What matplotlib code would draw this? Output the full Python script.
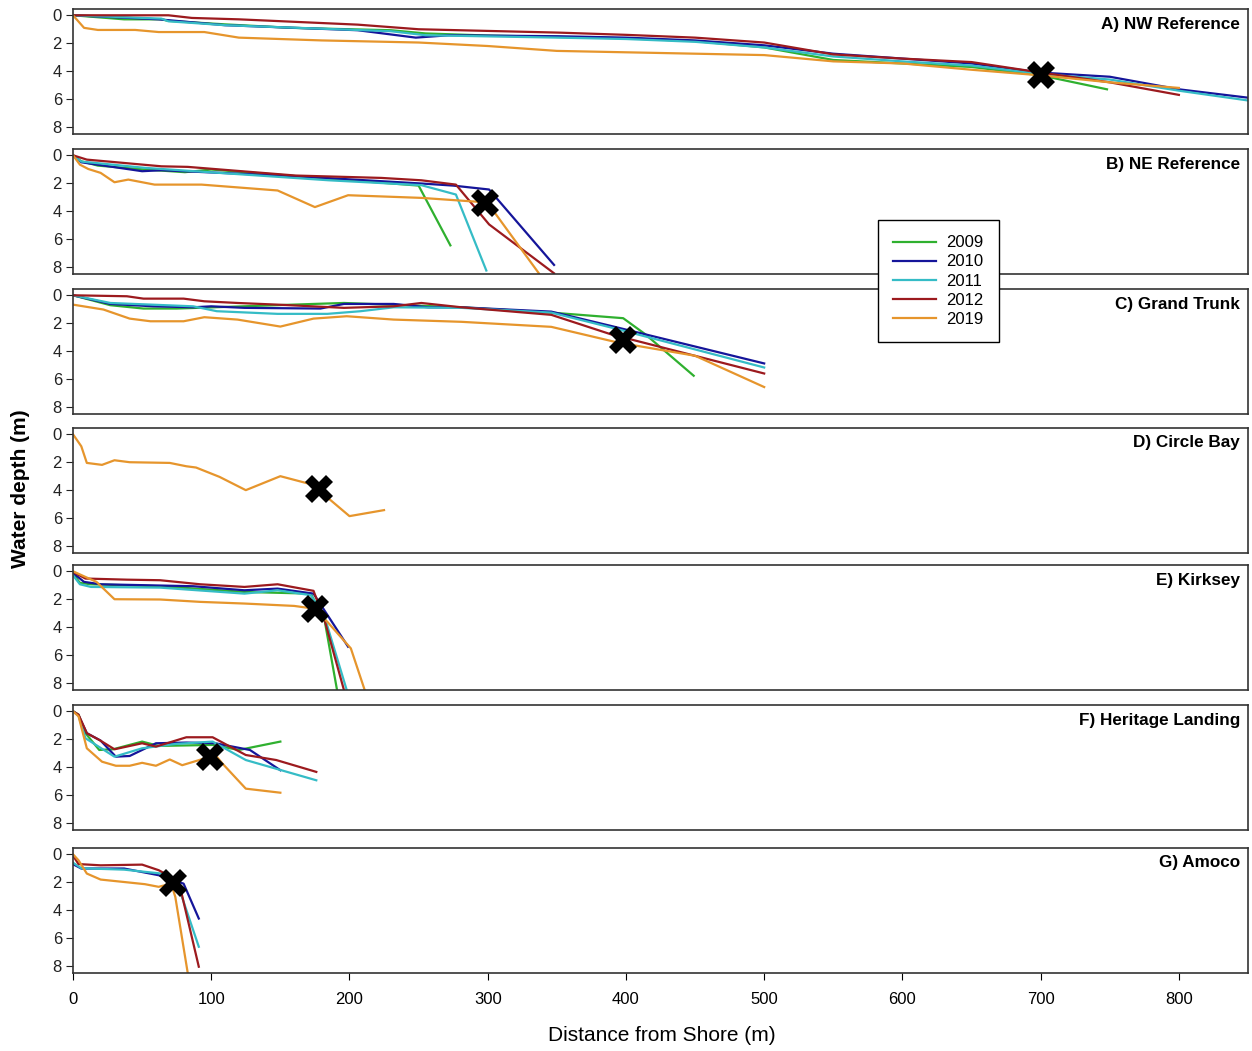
import matplotlib
matplotlib.use("Agg")
from matplotlib import pyplot as plt

plt.rcParams['font.family'] = ['Liberation Sans', 'DejaVu Sans']

years = ["2009", "2010", "2011", "2012", "2019"]
colors = ["#2fb02f", "#15159a", "#35bcc6", "#9c1a1e", "#e6952c"]

# A) NW Reference
nw_2009_x = [0, 37, 64, 69, 110, 158, 230, 255, 300, 350, 400, 450, 500, 550, 600, 650, 700, 748]
nw_2009_d = [0, 0.29, 0.29, 0.4, 0.65, 0.9, 1.07, 1.3, 1.45, 1.55, 1.65, 1.85, 2.3, 3.2, 3.45, 3.7, 4.3, 5.3]
nw_2010_x = [0, 62, 110, 206, 248, 272, 351, 400, 450, 500, 550, 600, 650, 700, 750, 800, 850]
nw_2010_d = [0, 0.29, 0.71, 1.07, 1.6, 1.43, 1.5, 1.6, 1.8, 2.15, 2.75, 3.1, 3.45, 4.1, 4.4, 5.3, 5.9]
nw_2011_x = [0, 64, 69, 110, 230, 255, 351, 400, 450, 500, 550, 600, 650, 700, 750, 800, 850]
nw_2011_d = [0, 0.24, 0.43, 0.71, 1.14, 1.43, 1.6, 1.7, 1.9, 2.3, 2.95, 3.3, 3.6, 4.2, 4.6, 5.4, 6.1]
nw_2012_x = [0, 69, 86, 120, 206, 250, 351, 400, 450, 500, 550, 600, 650, 700, 750, 800]
nw_2012_d = [0, 0, 0.19, 0.29, 0.67, 1.0, 1.24, 1.4, 1.6, 1.95, 2.8, 3.1, 3.35, 4.1, 4.8, 5.7]
nw_2019_x = [0, 8, 18, 45, 62, 80, 95, 120, 180, 250, 300, 350, 400, 450, 500, 550, 600, 650, 700, 750, 800]
nw_2019_d = [0, 0.9, 1.05, 1.05, 1.2, 1.2, 1.2, 1.6, 1.8, 1.95, 2.2, 2.55, 2.65, 2.75, 2.85, 3.3, 3.45, 3.9, 4.3, 4.8, 5.2]

# B) NE Reference
ne_2009_x = [0, 6, 18, 52, 81, 100, 250, 273]
ne_2009_d = [0, 0.43, 0.74, 1.02, 1.21, 1.02, 2.17, 6.45]
ne_2010_x = [0, 6, 50, 64, 161, 252, 275, 301, 348]
ne_2010_d = [0, 0.5, 1.14, 1.07, 1.5, 2.02, 2.17, 2.45, 7.85]
ne_2011_x = [0, 6, 52, 185, 252, 277, 299]
ne_2011_d = [0, 0.45, 0.9, 1.79, 2.14, 2.81, 8.25]
ne_2012_x = [0, 10, 64, 83, 161, 223, 252, 277, 301, 348]
ne_2012_d = [0, 0.31, 0.79, 0.83, 1.45, 1.62, 1.79, 2.1, 4.95, 8.45]
ne_2019_x = [0, 5, 11, 20, 30, 40, 59, 93, 148, 175, 199, 252, 293, 305, 337]
ne_2019_d = [0, 0.67, 0.98, 1.26, 1.93, 1.74, 2.1, 2.1, 2.52, 3.71, 2.86, 3.05, 3.33, 4.1, 8.45]

# C) Grand Trunk
gt_2009_x = [0, 27, 51, 75, 174, 196, 281, 346, 398, 414, 449]
gt_2009_d = [0, 0.71, 0.95, 0.95, 0.62, 0.55, 0.86, 1.24, 1.64, 2.79, 5.76]
gt_2010_x = [0, 27, 58, 87, 100, 124, 179, 196, 232, 257, 281, 346, 389, 500]
gt_2010_d = [0, 0.62, 0.79, 0.86, 0.79, 0.9, 0.95, 0.62, 0.62, 0.86, 0.86, 1.17, 2.19, 4.88]
gt_2011_x = [0, 27, 87, 104, 148, 184, 208, 232, 281, 346, 389, 500]
gt_2011_d = [0, 0.55, 0.79, 1.14, 1.33, 1.33, 1.14, 0.86, 0.9, 1.24, 2.3, 5.17]
gt_2012_x = [0, 39, 51, 80, 95, 119, 148, 196, 232, 252, 281, 346, 389, 500]
gt_2012_d = [0, 0.07, 0.24, 0.24, 0.43, 0.55, 0.67, 0.9, 0.79, 0.55, 0.86, 1.4, 2.79, 5.6]
gt_2019_x = [0, 22, 41, 56, 80, 95, 119, 150, 174, 198, 232, 281, 346, 394, 450, 500]
gt_2019_d = [0.67, 1.02, 1.67, 1.86, 1.86, 1.57, 1.74, 2.24, 1.67, 1.5, 1.74, 1.9, 2.26, 3.38, 4.33, 6.57]

# D) Circle Bay
cb_2019_x = [0, 6, 10, 21, 30, 41, 70, 82, 89, 106, 125, 150, 173, 200, 225]
cb_2019_d = [0, 0.86, 2.05, 2.19, 1.86, 2.0, 2.05, 2.29, 2.38, 3.05, 4.0, 3.0, 3.6, 5.86, 5.43]

# E) Kirksey
ki_2009_x = [0, 5, 13, 63, 124, 172, 182, 191]
ki_2009_d = [0.17, 0.83, 0.93, 1.07, 1.48, 1.6, 3.5, 8.5]
ki_2010_x = [0, 8, 20, 87, 124, 148, 174, 199]
ki_2010_d = [0.12, 0.76, 0.93, 1.07, 1.36, 1.24, 1.6, 5.4]
ki_2011_x = [0, 5, 13, 63, 124, 148, 172, 182, 198]
ki_2011_d = [0.29, 0.93, 1.12, 1.17, 1.6, 1.36, 1.71, 3.26, 8.5]
ki_2012_x = [0, 9, 39, 63, 92, 124, 148, 174, 182, 196]
ki_2012_d = [0.05, 0.52, 0.6, 0.64, 0.93, 1.12, 0.93, 1.4, 3.5, 8.5]
ki_2019_x = [0, 8, 17, 30, 63, 92, 124, 160, 174, 184, 201, 211]
ki_2019_d = [0, 0.36, 0.76, 2.0, 2.02, 2.19, 2.31, 2.48, 2.67, 3.62, 5.52, 8.5]

# F) Heritage Landing
hl_2009_x = [0, 4, 9, 19, 29, 50, 62, 101, 120, 150]
hl_2009_d = [0, 0.24, 1.57, 2.77, 2.72, 2.17, 2.48, 2.41, 2.77, 2.17]
hl_2010_x = [0, 4, 10, 20, 31, 41, 60, 82, 103, 128, 150]
hl_2010_d = [0, 0.3, 1.57, 2.1, 3.25, 3.2, 2.29, 2.24, 2.29, 2.77, 4.22]
hl_2011_x = [0, 4, 9, 30, 50, 74, 101, 125, 176]
hl_2011_d = [0, 0.3, 1.93, 3.25, 2.65, 2.34, 2.17, 3.49, 4.94]
hl_2012_x = [0, 4, 10, 19, 30, 50, 60, 82, 101, 125, 147, 176]
hl_2012_d = [0, 0.24, 1.57, 2.05, 2.72, 2.29, 2.53, 1.86, 1.86, 3.13, 3.49, 4.34]
hl_2019_x = [0, 4, 10, 21, 31, 41, 50, 60, 70, 79, 91, 103, 108, 125, 150]
hl_2019_d = [0, 0.36, 2.65, 3.61, 3.9, 3.9, 3.69, 3.9, 3.45, 3.86, 3.5, 3.13, 3.73, 5.54, 5.83]

# G) Amoco
am_2010_x = [0, 6, 37, 62, 72, 80, 91]
am_2010_d = [0.71, 1.02, 1.02, 1.5, 1.86, 2.1, 4.6]
am_2011_x = [0, 6, 37, 64, 71, 78, 91]
am_2011_d = [0.6, 1.0, 1.1, 1.38, 1.62, 2.81, 6.62]
am_2012_x = [0, 4, 20, 50, 62, 70, 78, 91]
am_2012_d = [0.1, 0.7, 0.79, 0.74, 1.14, 1.57, 2.57, 8.05]
am_2019_x = [0, 4, 10, 20, 52, 62, 71, 74, 83]
am_2019_d = [0, 0.43, 1.38, 1.81, 2.14, 2.33, 2.1, 3.05, 8.5]

titles = ["A) NW Reference", "B) NE Reference", "C) Grand Trunk", "D) Circle Bay",
          "E) Kirksey", "F) Heritage Landing", "G) Amoco"]

# crossing point (X) in each panel
cross_x = [700, 298, 398, 178, 175, 99, 72]
cross_d = [4.25, 3.43, 3.2, 3.93, 2.71, 3.29, 2.07]

panels = [
    [(nw_2009_x, nw_2009_d), (nw_2010_x, nw_2010_d), (nw_2011_x, nw_2011_d), (nw_2012_x, nw_2012_d), (nw_2019_x, nw_2019_d)],
    [(ne_2009_x, ne_2009_d), (ne_2010_x, ne_2010_d), (ne_2011_x, ne_2011_d), (ne_2012_x, ne_2012_d), (ne_2019_x, ne_2019_d)],
    [(gt_2009_x, gt_2009_d), (gt_2010_x, gt_2010_d), (gt_2011_x, gt_2011_d), (gt_2012_x, gt_2012_d), (gt_2019_x, gt_2019_d)],
    [None, None, None, None, (cb_2019_x, cb_2019_d)],
    [(ki_2009_x, ki_2009_d), (ki_2010_x, ki_2010_d), (ki_2011_x, ki_2011_d), (ki_2012_x, ki_2012_d), (ki_2019_x, ki_2019_d)],
    [(hl_2009_x, hl_2009_d), (hl_2010_x, hl_2010_d), (hl_2011_x, hl_2011_d), (hl_2012_x, hl_2012_d), (hl_2019_x, hl_2019_d)],
    [None, (am_2010_x, am_2010_d), (am_2011_x, am_2011_d), (am_2012_x, am_2012_d), (am_2019_x, am_2019_d)],
]

W, H = 1252, 1051
fig = plt.figure(figsize=(W / 100, H / 100), dpi=100)

# panel top edges in pixels, each panel 125 px tall
tops = [9, 149, 289, 428, 565, 705, 848]
left, right = 73, 1248
ph = 125

for i, series in enumerate(panels):
    ax = fig.add_axes([left / W, 1 - (tops[i] + ph) / H, (right - left) / W, ph / H])
    for j, s in enumerate(series):
        if s is None:
            continue
        ax.plot(s[0], s[1], color=colors[j], lw=1.6, label=years[j], solid_joinstyle="round")
    ax.plot(cross_x[i], cross_d[i], marker="X", color="black", markersize=20,
            markeredgewidth=0, zorder=5)
    ax.set_xlim(0, 850)
    ax.set_ylim(8.5, -0.45)
    ax.set_yticks([0, 2, 4, 6, 8])
    ax.tick_params(axis="y", direction="out", length=5, labelsize=12, colors="#222222", pad=3)
    for sp in ax.spines.values():
        sp.set_color("#333333")
        sp.set_linewidth(1.2)
    ax.text(0.993, 0.88, titles[i], transform=ax.transAxes, ha="right", va="center",
            fontsize=12.3, fontweight="bold")
    if i < len(panels) - 1:
        ax.tick_params(axis="x", bottom=False, labelbottom=False)
    else:
        ax.set_xticks(range(0, 900, 100))
        ax.tick_params(axis="x", direction="out", length=5, labelsize=12, pad=9)

leg_handles = [plt.Line2D([], [], color=c, lw=1.6) for c in colors]
fig.legend(leg_handles, years, loc="lower left", bbox_to_anchor=(878 / W, 1 - 342 / H),
           borderaxespad=0, frameon=True, fancybox=False, edgecolor="black", framealpha=1,
           fontsize=12, handlelength=2.6, labelspacing=0.25, borderpad=0.9,
           handletextpad=0.6)

fig.text(0.016, 0.535, "Water depth (m)", rotation=90, ha="center", va="center",
         fontsize=15, fontweight="bold")
fig.text(0.529, 0.015, "Distance from Shore (m)", ha="center", va="center", fontsize=15)

fig.savefig("out.png", dpi=100)
